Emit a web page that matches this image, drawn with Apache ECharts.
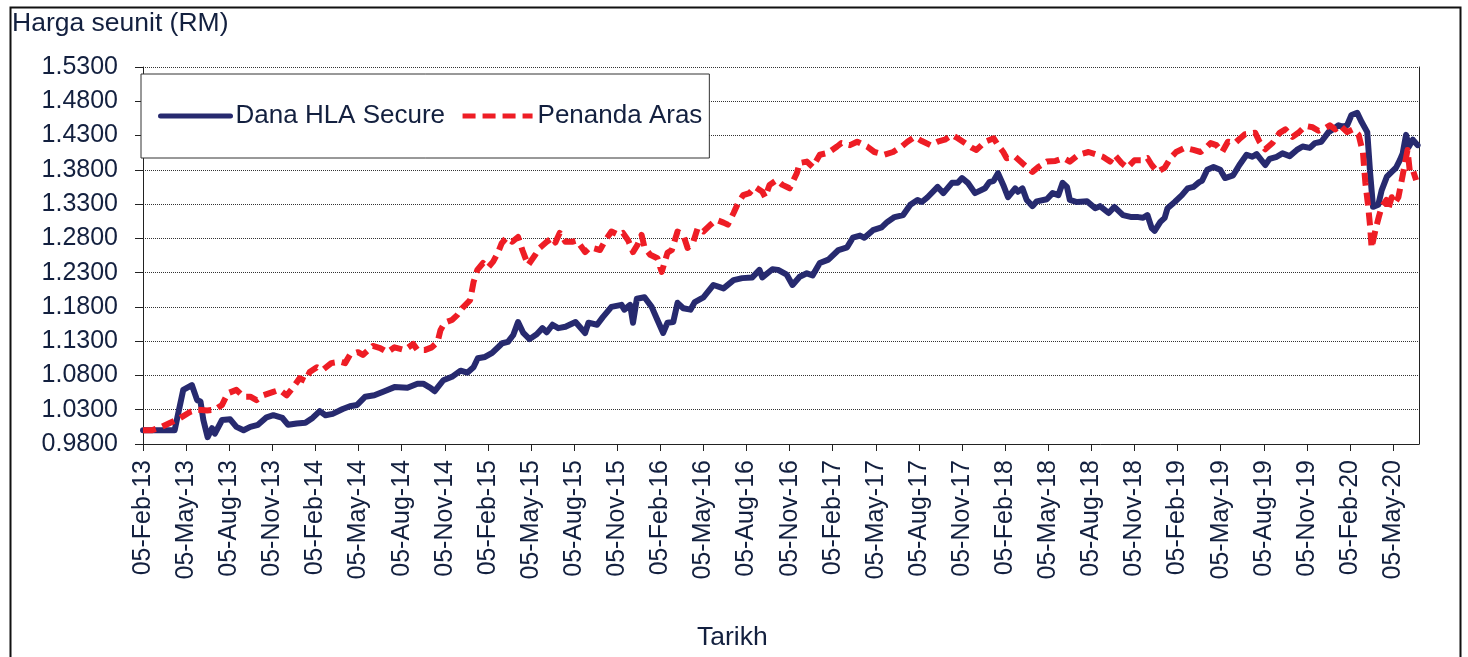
<!DOCTYPE html>
<html>
<head>
<meta charset="utf-8">
<script src="https://cdn.jsdelivr.net/npm/echarts@6/dist/echarts.min.js"></script>
<style>
html, body { margin: 0; padding: 0; background: #fff; }
#chart { width: 1468px; height: 657px; }
</style>
</head>
<body>
<div id="chart"></div>
<script>
// tarikh dan harga seunit, dibaca dari graf
const hlaDates = [
  '2013-02-05','2013-03-05','2013-04-11','2013-04-29','2013-05-17','2013-05-28','2013-06-05','2013-06-11',
  '2013-06-20','2013-06-29','2013-07-05','2013-07-20','2013-08-07','2013-08-20','2013-09-05','2013-09-19',
  '2013-10-05','2013-10-23','2013-11-07','2013-11-26','2013-12-08','2013-12-26','2014-01-14','2014-01-29',
  '2014-02-14','2014-02-26','2014-03-11','2014-04-02','2014-04-17','2014-05-02','2014-05-19','2014-06-08',
  '2014-06-29','2014-07-20','2014-08-17','2014-09-08','2014-09-20','2014-10-05','2014-10-14','2014-11-02',
  '2014-11-20','2014-12-08','2014-12-22','2015-01-05','2015-01-14','2015-01-29','2015-02-14','2015-03-05',
  '2015-03-17','2015-03-28','2015-04-08','2015-04-19','2015-05-02','2015-05-17','2015-05-29','2015-06-08',
  '2015-06-20','2015-07-02','2015-07-17','2015-08-08','2015-08-28','2015-09-05','2015-09-23','2015-10-05',
  '2015-10-23','2015-11-14','2015-11-20','2015-12-02','2015-12-08','2015-12-16','2016-01-02','2016-01-17',
  '2016-01-29','2016-02-11','2016-02-20','2016-03-02','2016-03-11','2016-03-23','2016-04-08','2016-04-17',
  '2016-05-05','2016-05-26','2016-06-17','2016-07-08','2016-07-26','2016-08-17','2016-09-02','2016-09-08',
  '2016-09-29','2016-10-11','2016-10-29','2016-11-11','2016-11-26','2016-12-11','2016-12-23','2017-01-08',
  '2017-01-26','2017-02-17','2017-03-05','2017-03-17','2017-04-02','2017-04-11','2017-04-29','2017-05-17',
  '2017-05-29','2017-06-14','2017-07-02','2017-07-17','2017-08-02','2017-08-11','2017-08-23','2017-09-14',
  '2017-09-26','2017-10-14','2017-10-26','2017-11-05','2017-11-17','2017-12-02','2017-12-23','2018-01-02',
  '2018-01-11','2018-01-20','2018-01-31','2018-02-11','2018-02-26','2018-03-02','2018-03-11','2018-03-20',
  '2018-04-02','2018-04-11','2018-05-02','2018-05-14','2018-05-26','2018-06-05','2018-06-14','2018-06-20',
  '2018-07-05','2018-07-26','2018-08-13','2018-08-23','2018-09-11','2018-09-23','2018-10-11','2018-10-29',
  '2018-11-13','2018-11-23','2018-12-02','2018-12-11','2018-12-17','2018-12-29','2019-01-08','2019-01-14',
  '2019-01-29','2019-02-14','2019-02-26','2019-03-08','2019-03-20','2019-03-26','2019-04-07','2019-04-20',
  '2019-05-04','2019-05-14','2019-05-31','2019-06-14','2019-06-29','2019-07-11','2019-07-20','2019-08-08',
  '2019-08-17','2019-09-02','2019-09-14','2019-09-29','2019-10-14','2019-10-26','2019-11-11','2019-11-22',
  '2019-12-05','2019-12-20','2019-12-29','2020-01-11','2020-01-20','2020-01-29','2020-02-08','2020-02-20',
  '2020-02-29','2020-03-11','2020-03-17','2020-03-23','2020-04-04','2020-04-11','2020-04-22','2020-05-02',
  '2020-05-11','2020-05-19','2020-05-25','2020-06-02','2020-06-08','2020-06-16','2020-06-26'
];
const hlaPrices = [
  1.000,1.000,1.000,1.059,1.066,1.044,1.042,1.015,
  0.990,1.003,0.995,1.015,1.016,1.005,1.000,1.005,
  1.008,1.019,1.022,1.018,1.008,1.010,1.011,1.018,
  1.028,1.022,1.024,1.031,1.035,1.037,1.049,1.051,
  1.057,1.063,1.062,1.068,1.068,1.062,1.057,1.073,
  1.078,1.087,1.084,1.092,1.105,1.107,1.113,1.127,
  1.129,1.139,1.158,1.142,1.133,1.140,1.149,1.143,
  1.154,1.149,1.151,1.158,1.142,1.157,1.154,1.165,
  1.180,1.183,1.176,1.183,1.157,1.192,1.194,1.180,
  1.161,1.142,1.157,1.158,1.186,1.178,1.176,1.187,
  1.194,1.212,1.207,1.219,1.222,1.223,1.234,1.223,
  1.235,1.234,1.227,1.212,1.224,1.229,1.226,1.244,
  1.249,1.263,1.267,1.281,1.284,1.281,1.292,1.296,
  1.304,1.311,1.314,1.329,1.336,1.333,1.340,1.355,
  1.346,1.361,1.361,1.368,1.361,1.346,1.353,1.362,
  1.364,1.375,1.358,1.340,1.353,1.348,1.353,1.336,
  1.327,1.334,1.337,1.346,1.343,1.361,1.355,1.336,
  1.333,1.334,1.324,1.327,1.317,1.326,1.314,1.311,
  1.311,1.310,1.314,1.295,1.291,1.304,1.310,1.324,
  1.333,1.343,1.353,1.355,1.362,1.364,1.380,1.384,
  1.380,1.368,1.372,1.387,1.402,1.399,1.403,1.387,
  1.396,1.399,1.404,1.400,1.409,1.414,1.412,1.419,
  1.421,1.435,1.439,1.445,1.443,1.445,1.460,1.463,
  1.450,1.435,1.375,1.326,1.329,1.350,1.370,1.377,
  1.383,1.394,1.404,1.431,1.414,1.424,1.416
];

const benchDates = [
  '2013-02-05','2013-02-23','2013-03-11','2013-04-02','2013-04-23','2013-05-14','2013-05-28','2013-06-19',
  '2013-07-05','2013-07-20','2013-08-02','2013-08-20','2013-09-05','2013-09-19','2013-10-02','2013-10-16',
  '2013-11-07','2013-11-20','2013-12-05','2013-12-19','2014-01-02','2014-01-14','2014-01-23','2014-02-08',
  '2014-02-20','2014-03-08','2014-03-26','2014-04-07','2014-04-17','2014-05-04','2014-05-14','2014-06-05',
  '2014-06-20','2014-07-05','2014-07-20','2014-08-11','2014-08-29','2014-09-08','2014-09-23','2014-10-08',
  '2014-10-20','2014-10-26','2014-11-05','2014-11-20','2014-12-01','2014-12-11','2014-12-28','2015-01-05',
  '2015-01-13','2015-01-25','2015-02-05','2015-02-16','2015-02-26','2015-03-04','2015-03-14','2015-03-26',
  '2015-04-08','2015-04-17','2015-04-29','2015-05-14','2015-05-23','2015-06-08','2015-06-20','2015-06-26',
  '2015-07-05','2015-07-17','2015-07-31','2015-08-11','2015-08-28','2015-09-08','2015-09-29','2015-10-11',
  '2015-10-23','2015-11-08','2015-11-17','2015-11-28','2015-12-08','2015-12-17','2015-12-26','2016-01-02',
  '2016-01-14','2016-01-29','2016-02-08','2016-02-20','2016-02-29','2016-03-11','2016-03-23','2016-04-02',
  '2016-04-14','2016-04-23','2016-05-05','2016-05-20','2016-06-02','2016-06-17','2016-06-26','2016-07-08',
  '2016-07-17','2016-07-28','2016-08-11','2016-08-23','2016-09-08','2016-09-14','2016-09-23','2016-10-08',
  '2016-10-20','2016-11-05','2016-11-20','2016-11-26','2016-12-11','2016-12-23','2017-01-08','2017-01-26',
  '2017-02-14','2017-02-23','2017-03-11','2017-03-26','2017-04-17','2017-05-02','2017-05-23','2017-06-11',
  '2017-06-29','2017-07-11','2017-07-26','2017-08-11','2017-08-29','2017-09-14','2017-09-29','2017-10-14',
  '2017-10-26','2017-11-11','2017-11-26','2017-12-05','2017-12-23','2018-01-11','2018-01-20','2018-01-31',
  '2018-02-08','2018-02-26','2018-03-07','2018-03-20','2018-04-02','2018-04-14','2018-05-02','2018-05-20',
  '2018-06-07','2018-06-20','2018-07-08','2018-07-29','2018-08-17','2018-08-29','2018-09-14','2018-09-23',
  '2018-10-08','2018-10-20','2018-11-05','2018-11-20','2018-12-02','2018-12-11','2018-12-23','2019-01-08',
  '2019-01-20','2019-02-02','2019-02-20','2019-03-08','2019-03-23','2019-04-07','2019-04-14','2019-04-26',
  '2019-05-08','2019-05-20','2019-06-05','2019-06-14','2019-06-26','2019-07-17','2019-07-26','2019-08-08',
  '2019-08-23','2019-09-08','2019-09-20','2019-10-05','2019-10-17','2019-11-02','2019-11-17','2019-11-29',
  '2019-12-14','2019-12-23','2020-01-04','2020-01-14','2020-01-29','2020-02-11','2020-02-23','2020-03-02',
  '2020-03-07','2020-03-13','2020-03-17','2020-03-20','2020-03-29','2020-04-05','2020-04-11','2020-04-21',
  '2020-04-24','2020-05-02','2020-05-08','2020-05-16','2020-05-23','2020-05-29','2020-06-05','2020-06-10',
  '2020-06-16','2020-06-23'
];
const benchPrices = [
  1.000,1.000,1.004,1.011,1.018,1.027,1.030,1.029,
  1.030,1.037,1.054,1.059,1.049,1.049,1.044,1.051,
  1.056,1.059,1.051,1.063,1.076,1.072,1.085,1.092,
  1.088,1.098,1.100,1.098,1.110,1.114,1.110,1.123,
  1.120,1.114,1.121,1.117,1.126,1.117,1.117,1.121,
  1.129,1.146,1.157,1.161,1.168,1.178,1.190,1.216,
  1.234,1.244,1.237,1.246,1.259,1.273,1.281,1.275,
  1.282,1.263,1.241,1.256,1.266,1.275,1.281,1.274,
  1.288,1.275,1.275,1.277,1.260,1.267,1.263,1.278,
  1.290,1.285,1.288,1.277,1.260,1.270,1.285,1.267,
  1.256,1.251,1.231,1.259,1.263,1.290,1.285,1.266,
  1.275,1.295,1.290,1.300,1.307,1.303,1.300,1.317,
  1.331,1.343,1.346,1.355,1.348,1.340,1.358,1.365,
  1.358,1.353,1.375,1.390,1.392,1.384,1.402,1.405,
  1.414,1.419,1.416,1.421,1.414,1.406,1.402,1.406,
  1.414,1.421,1.428,1.422,1.416,1.421,1.424,1.431,
  1.426,1.419,1.412,1.409,1.421,1.426,1.416,1.406,
  1.397,1.399,1.392,1.384,1.377,1.384,1.392,1.393,
  1.397,1.392,1.402,1.406,1.402,1.399,1.392,1.402,
  1.390,1.383,1.394,1.394,1.397,1.387,1.377,1.383,
  1.397,1.406,1.412,1.409,1.406,1.414,1.419,1.416,
  1.406,1.421,1.419,1.425,1.432,1.434,1.421,1.410,
  1.419,1.434,1.439,1.428,1.434,1.444,1.442,1.437,
  1.441,1.445,1.439,1.445,1.435,1.439,1.431,1.405,
  1.361,1.326,1.297,1.266,1.295,1.311,1.326,1.336,
  1.321,1.340,1.331,1.340,1.365,1.387,1.409,1.377,
  1.380,1.365
];

const tickLabels = [
  '05-Feb-13','05-May-13','05-Aug-13','05-Nov-13',
  '05-Feb-14','05-May-14','05-Aug-14','05-Nov-14',
  '05-Feb-15','05-May-15','05-Aug-15','05-Nov-15',
  '05-Feb-16','05-May-16','05-Aug-16','05-Nov-16',
  '05-Feb-17','05-May-17','05-Aug-17','05-Nov-17',
  '05-Feb-18','05-May-18','05-Aug-18','05-Nov-18',
  '05-Feb-19','05-May-19','05-Aug-19','05-Nov-19',
  '05-Feb-20','05-May-20'
];
const endDate = '2020-06-29';

// bulan sejak 05-Feb-13
function monthsFromStart(s) {
  const p = s.split('-').map(Number);
  return (p[0] - 2013) * 12 + (p[1] - 2) + (p[2] - 5) / 30;
}

const font = "'Liberation Sans', Arial, sans-serif";
const textColor = '#13203f';
const navy = '#272a6f';
const red = '#ee1d25';
const xTicks = tickLabels.map((_, i) => i * 3);

const chart = echarts.init(document.getElementById('chart'));

const option = {
  animation: false,
  backgroundColor: '#fff',
  title: [
    { text: 'Harga seunit (RM)', left: 12, top: 10, padding: 0,
      textStyle: { fontFamily: font, fontSize: 26.5, fontWeight: 'normal', color: textColor } },
    { text: 'Tarikh', left: 697, top: 624, padding: 0,
      textStyle: { fontFamily: font, fontSize: 26.5, fontWeight: 'normal', color: textColor } }
  ],
  legend: {
    left: 141, top: 74,
    padding: [29, 7, 29, 17],
    itemWidth: 70, itemHeight: 14, itemGap: 15,
    backgroundColor: '#fff', borderColor: '#333', borderWidth: 1,
    itemStyle: { opacity: 0 },
    lineStyle: { width: 5 },
    textStyle: { fontFamily: font, fontSize: 26, color: textColor },
    data: ['Dana HLA Secure', 'Penanda Aras']
  },
  grid: { left: 143, right: 49, top: 67, bottom: 213 },
  xAxis: {
    type: 'value', min: 0, max: monthsFromStart(endDate),
    axisLine: { show: true, onZero: false, lineStyle: { color: '#222', width: 1 } },
    axisTick: { show: true, length: 7, customValues: xTicks, lineStyle: { color: '#222' } },
    axisLabel: {
      customValues: xTicks, rotate: 90, margin: 16,
      fontFamily: font, fontSize: 25, color: textColor,
      formatter: v => tickLabels[Math.round(v / 3)]
    },
    splitLine: { show: false }
  },
  yAxis: [
    {
      type: 'value', min: 0.98, max: 1.53, interval: 0.05,
      axisLine: { show: true, onZero: false, lineStyle: { color: '#222', width: 1 } },
      axisTick: { show: true, length: 8, lineStyle: { color: '#222' } },
      axisLabel: { margin: 25, fontFamily: font, fontSize: 25, color: textColor,
        formatter: v => v.toFixed(4) },
      splitLine: { show: true, lineStyle: { color: '#333', width: 1, type: 'dotted' } }
    },
    {
      type: 'value', position: 'right', min: 0.98, max: 1.53,
      axisLine: { show: true, onZero: false, lineStyle: { color: '#222', width: 1 } },
      axisTick: { show: false }, axisLabel: { show: false }, splitLine: { show: false }
    }
  ],
  graphic: [
    { type: 'rect', left: 8, top: 5, shape: { width: 1450, height: 680 },
      style: { fill: 'none', stroke: '#111', lineWidth: 2 }, silent: true }
  ],
  series: [
    {
      name: 'Dana HLA Secure', type: 'line', symbol: 'none',
      data: hlaDates.map((d, i) => [monthsFromStart(d), hlaPrices[i]]),
      lineStyle: { color: navy, width: 6, join: 'round', cap: 'round' },
      itemStyle: { color: navy }
    },
    {
      name: 'Penanda Aras', type: 'line', symbol: 'none',
      data: benchDates.map((d, i) => [monthsFromStart(d), benchPrices[i]]),
      lineStyle: { color: red, width: 6, type: [13, 7], join: 'round' },
      itemStyle: { color: red }
    }
  ]
};

chart.setOption(option);
</script>
</body>
</html>
